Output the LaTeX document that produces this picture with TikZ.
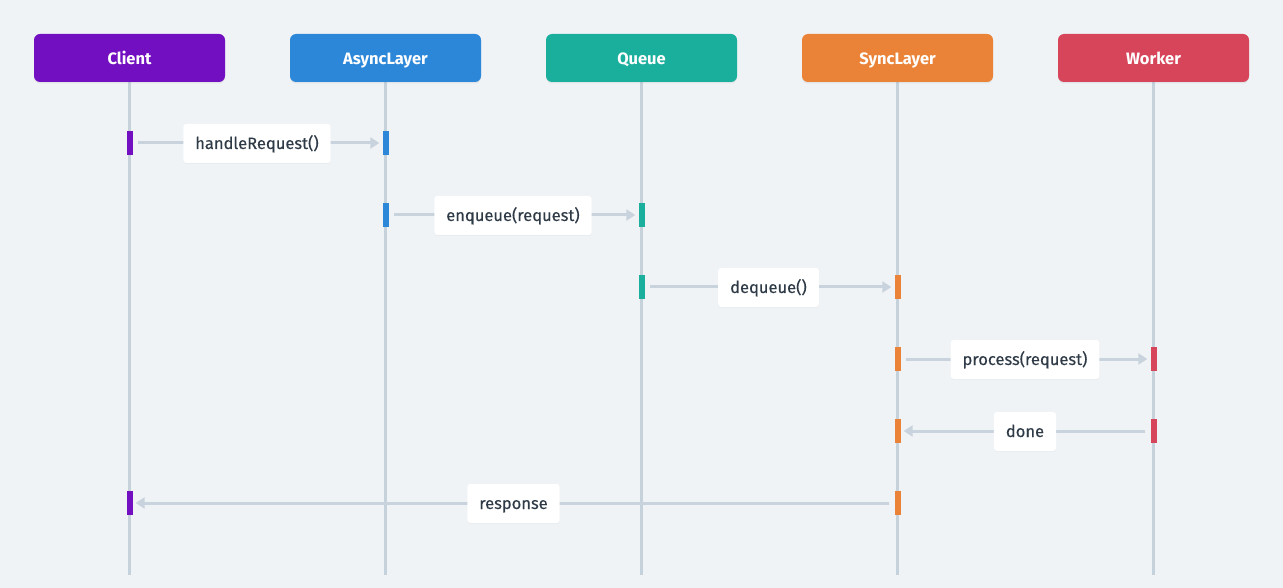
\documentclass[tikz,border=0pt]{standalone}
\usepackage{fontspec}
\setmainfont{Fira Sans}
\newfontfamily\medfont[FakeBold=0.3]{Fira Sans}
\usetikzlibrary{arrows.meta,shadows}
\definecolor{bg}{HTML}{F0F3F6}
\definecolor{cClient}{HTML}{7210C1}
\definecolor{cAsync}{HTML}{2D87D8}
\definecolor{cQueue}{HTML}{1AAF9C}
\definecolor{cSync}{HTML}{EA8338}
\definecolor{cWorker}{HTML}{D6455A}
\definecolor{life}{HTML}{C5D1DB}
\definecolor{msgline}{HTML}{C8D3DD}
\definecolor{txt}{HTML}{2E3A46}
\tikzset{
  head/.style={rounded corners=6pt, minimum width=191pt, minimum height=48pt, inner sep=0pt,
    text height=14pt, text depth=1pt,
    text=white, font=\fontsize{16.5}{18}\selectfont\bfseries, drop shadow={opacity=0.12, shadow xshift=0pt, shadow yshift=-1.5pt}},
  lifeline/.style={line width=3.5pt, draw=life},
  actbar/.style={minimum width=6pt, minimum height=24pt, inner sep=0pt},
  msg/.style={line width=3pt, draw=msgline, -{Triangle[length=9pt,width=11pt]}},
  lbl/.style={fill=white, rounded corners=3pt, minimum height=39pt, inner xsep=12pt, text=txt,
    text height=13.5pt, text depth=2.5pt,
    font=\medfont\fontsize{16.5}{18}\selectfont, drop shadow={opacity=0.06, shadow xshift=0pt, shadow yshift=-1pt}}
}
\begin{document}
\begin{tikzpicture}[x=1pt,y=-1pt]
\fill[bg] (0,0) rectangle (1283,588);
\useasboundingbox (0,0) rectangle (1283,588);
% lifelines
\foreach \n/\x in {c/129.5,a/385.5,q/641.5,s/897.5,w/1153.5}{
  \coordinate (\n top) at (\x,82);
  \coordinate (\n bot) at (\x,575);
  \draw[lifeline] (\n top) -- (\n bot);
}
% heads
\node[head, fill=cClient] (client) at (129.5,58) {Client};
\node[head, fill=cAsync] (async) at (385.5,58) {AsyncLayer};
\node[head, fill=cQueue] (queue) at (641.5,58) {Queue};
\node[head, fill=cSync] (sync) at (897.5,58) {SyncLayer};
\node[head, fill=cWorker] (worker) at (1153.5,58) {Worker};
% activation bars
\node[actbar, fill=cClient] (b1s) at (129.5,143) {};
\node[actbar, fill=cAsync] (b1e) at (385.5,143) {};
\node[actbar, fill=cAsync] (b2s) at (385.5,215) {};
\node[actbar, fill=cQueue] (b2e) at (641.5,215) {};
\node[actbar, fill=cQueue] (b3s) at (641.5,287) {};
\node[actbar, fill=cSync] (b3e) at (897.5,287) {};
\node[actbar, fill=cSync] (b4s) at (897.5,359) {};
\node[actbar, fill=cWorker] (b4e) at (1153.5,359) {};
\node[actbar, fill=cWorker] (b5s) at (1153.5,431) {};
\node[actbar, fill=cSync] (b5e) at (897.5,431) {};
\node[actbar, fill=cSync] (b6s) at (897.5,503) {};
\node[actbar, fill=cClient] (b6e) at (129.5,503) {};
% messages
\draw[msg] ([xshift=5pt]b1s.east) -- ([xshift=-3pt]b1e.west);
\draw[msg] ([xshift=5pt]b2s.east) -- ([xshift=-3pt]b2e.west);
\draw[msg] ([xshift=5pt]b3s.east) -- ([xshift=-3pt]b3e.west);
\draw[msg] ([xshift=5pt]b4s.east) -- ([xshift=-3pt]b4e.west);
\draw[msg] ([xshift=-5pt]b5s.west) -- ([xshift=3pt]b5e.east);
\draw[msg] ([xshift=-5pt]b6s.west) -- ([xshift=3pt]b6e.east);
% labels
\node[lbl] (l1) at (257,143.5) {handleRequest()};
\node[lbl] (l2) at (513,215.5) {enqueue(request)};
\node[lbl] (l3) at (768.5,287.5) {dequeue()};
\node[lbl] (l4) at (1025,359.5) {process(request)};
\node[lbl] (l5) at (1025,431.5) {done};
\node[lbl] (l6) at (513.5,503.5) {response};
\end{tikzpicture}
\end{document}
